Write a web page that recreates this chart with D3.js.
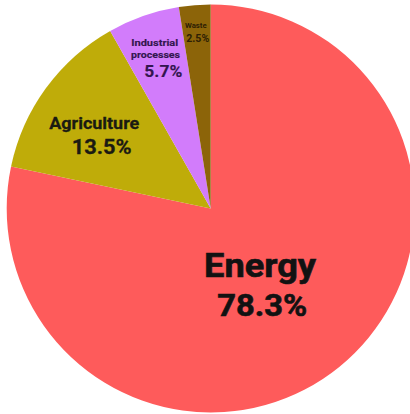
<!DOCTYPE html>
<html><head><meta charset="utf-8">
<script src="https://cdn.jsdelivr.net/npm/d3@7"></script>
<style>html,body{margin:0;padding:0;background:#fff;}svg{display:block;}</style>
</head><body>
<svg id="chart" width="410" height="414"></svg>
<script>
const categories = ["Energy", "Agriculture", "Industrial processes", "Waste"];
const values = [78.3, 13.5, 5.7, 2.5];
const valueLabels = ["78.3%", "13.5%", "5.7%", "2.5%"];
const colors = ["#fe5b5b", "#bfac09", "#d27cfb", "#8c6409"];

const svg = d3.select("#chart");
const cx = 210.7, cy = 208.5, R = 204;
const g = svg.append("g").attr("transform", `translate(${cx},${cy})`);

const data = categories.map((c, i) => ({name: c, value: values[i], label: valueLabels[i], color: colors[i]}));
const pie = d3.pie().value(d => d.value).sort(null);
const arcs = pie(data);
const arc = d3.arc().innerRadius(0).outerRadius(R);

g.selectAll("path").data(arcs).enter().append("path")
  .attr("d", arc).attr("fill", d => d.data.color);

// label layout per slice: anchor radius fraction + per-line offsets / sizes / target widths
const layout = {
  "Energy": {rf: 0.46, fill: "#121212", sw: 0.6, lines: [
    {t: "Energy", s: 32.5, dx: -9.8, dy: -4.7, w: 112},
    {t: "%", s: 31, dx: -7.6, dy: 34.6, w: 90}]},
  "Agriculture": {rf: 0.63, fill: "#1a1a12", sw: 0.3, lines: [
    {t: "Agriculture", s: 17.3, dx: -12.7, dy: -3.6, w: 90},
    {t: "%", s: 21, dx: -5.3, dy: 21.7, w: 60}]},
  "Industrial processes": {rf: 0.78, fill: "#33164f", sw: 0.15, lines: [
    {t: "Industrial", s: 9.8, dx: -3.5, dy: -12, w: 47},
    {t: "processes", s: 9.8, dx: -2.7, dy: -0.4, w: 49},
    {t: "%", s: 16.5, dx: 5.1, dy: 18.6, w: 38}]},
  "Waste": {rf: 0.86, fill: "#2e2004", sw: 0, lines: [
    {t: "Waste", s: 8, dx: -1.1, dy: -5.3, w: 21.7},
    {t: "%", s: 10.5, dx: 0.8, dy: 8.1, w: 23}]}
};

arcs.forEach(a => {
  const L = layout[a.data.name];
  const la = d3.arc().innerRadius(R * L.rf).outerRadius(R * L.rf);
  const [x, y] = la.centroid(a);
  L.lines.forEach(ln => {
    const grp = g.append("g");
    const t = grp.append("text")
      .attr("x", 0).attr("y", 0)
      .attr("text-anchor", "middle")
      .attr("font-family", "Roboto, 'Noto Sans', sans-serif")
      .attr("font-weight", 700)
      .attr("font-size", ln.s)
      .attr("fill", L.fill)
      .attr("stroke", L.sw ? L.fill : "none")
      .attr("stroke-width", L.sw)
      .text(ln.t === "%" ? a.data.label : ln.t);
    const nat = t.node().getComputedTextLength() || ln.w;
    grp.attr("transform", `translate(${x + ln.dx},${y + ln.dy}) scale(${ln.w / nat},1)`);
  });
});
</script>
</body></html>
